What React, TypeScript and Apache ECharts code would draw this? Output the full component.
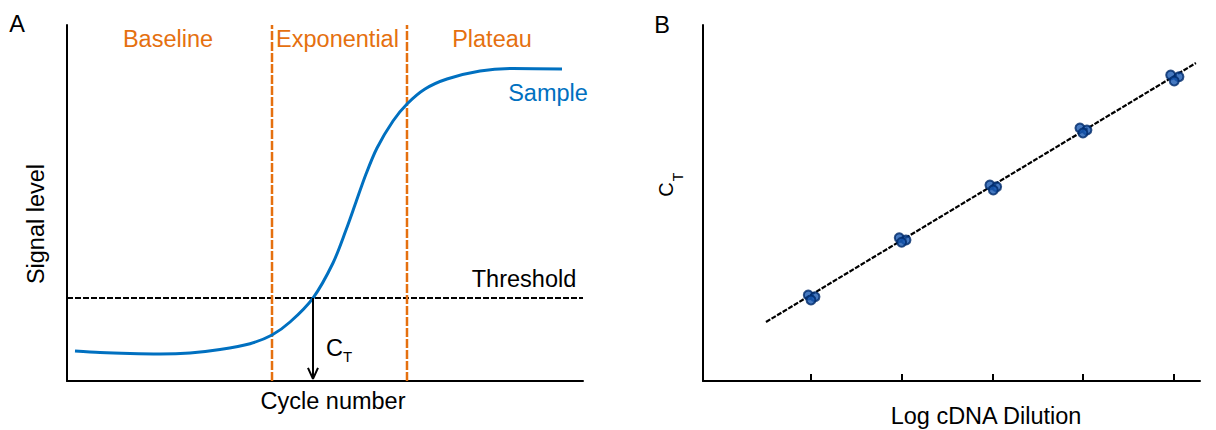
import React, { useEffect, useRef } from "react";
import * as echarts from "echarts";

// ---- Panel A: amplification curve ----
const cycleX = [1.55, 6.4, 12.21, 18.02, 23.84, 29.65, 35.47, 39.73, 43.22, 47.67, 51.55, 54.07, 56.01, 57.95, 60.08, 63.18, 65.89, 69.38, 73.64, 80.04, 86.43, 95.93];
const signalY = [8.43, 7.98, 7.7, 7.58, 7.87, 8.85, 10.48, 12.92, 16.57, 23.31, 33.15, 42.42, 50.28, 58.15, 65.45, 73.03, 77.81, 82.02, 84.83, 87.08, 87.78, 87.64];
const thresholdLevel = 23.31;
const ctCycle = 47.67;
const phaseBounds = [39.73, 65.89];
const phaseLabels = ["Baseline", "Exponential", "Plateau"];

// ---- Panel B: standard curve ----
const dilutionTicks = [1, 2, 3, 4, 5];
const rep1X = [0.97, 1.973, 2.972, 3.964, 4.964];
const rep1Y = [24.16, 40.25, 55.06, 71.07, 85.96];
const rep2X = [1.044, 2.047, 3.046, 4.041, 5.055];
const rep2Y = [23.68, 39.61, 54.58, 70.51, 85.48];
const rep3X = [1.0, 1.999, 3.009, 3.997, 5.003];
const rep3Y = [22.75, 38.96, 53.65, 69.66, 84.27];
const fitX = [0.504, 5.242];
const fitY = [16.57, 89.33];

const FONT = '"Liberation Sans", Arial, Helvetica, sans-serif';
const ORANGE = "#E5700F";
const BLUE = "#0070C0";

function txt(text: string, x: number, y: number, fill: string, size = 23.5, rotation = 0) {
  return {
    type: "text",
    x,
    y,
    rotation,
    style: {
      text,
      fill,
      fontSize: size,
      fontFamily: FONT,
      textAlign: "center",
      textVerticalAlign: "middle",
    },
  };
}

export default function App() {
  const ref = useRef<HTMLDivElement>(null);
  useEffect(() => {
    if (!ref.current) return;
    const chart = echarts.init(ref.current, undefined, { renderer: "svg" });
    const axisLine = { show: true, onZero: false, lineStyle: { color: "#000", width: 2 } };
    const hidden = { show: false };
    const pair = (xs: number[], ys: number[]) => xs.map((x, i) => [x, ys[i]]);
    const headDx = 0.97;
    const headDy = 3.1;
    const tipY = 0.6;
    const scatterStyle = {
      type: "scatter",
      xAxisIndex: 1,
      yAxisIndex: 1,
      symbol: "circle",
      symbolSize: 9,
      z: 5,
      itemStyle: { color: "#1858B0", borderColor: "#002A6A", borderWidth: 2 },
    };
    chart.setOption({
      animation: false,
      grid: [
        { left: 67, top: 25, width: 516, height: 356 },
        { left: 703, top: 25, width: 497, height: 356 },
      ],
      xAxis: [
        { type: "value", gridIndex: 0, min: 0, max: 100, axisLine, axisTick: hidden, axisLabel: hidden, splitLine: hidden },
        {
          type: "value",
          gridIndex: 1,
          min: -0.19,
          max: 5.287,
          axisLine,
          axisTick: { show: true, inside: true, length: 7, customValues: dilutionTicks, lineStyle: { color: "#000", width: 2 } },
          axisLabel: { show: false, customValues: dilutionTicks },
          splitLine: hidden,
        },
      ],
      yAxis: [
        { type: "value", gridIndex: 0, min: 0, max: 100, axisLine, axisTick: hidden, axisLabel: hidden, splitLine: hidden },
        { type: "value", gridIndex: 1, min: 0, max: 100, axisLine, axisTick: hidden, axisLabel: hidden, splitLine: hidden },
      ],
      series: [
        {
          name: "Sample",
          type: "line",
          xAxisIndex: 0,
          yAxisIndex: 0,
          data: pair(cycleX, signalY),
          smooth: 0.3,
          symbol: "none",
          lineStyle: { color: BLUE, width: 3 },
          z: 3,
        },
        {
          name: "Threshold",
          type: "line",
          xAxisIndex: 0,
          yAxisIndex: 0,
          data: [[0, thresholdLevel], [100, thresholdLevel]],
          symbol: "none",
          lineStyle: { color: "#000", width: 2, type: [6, 2] },
          z: 2,
        },
        ...phaseBounds.map((b) => ({
          type: "line",
          xAxisIndex: 0,
          yAxisIndex: 0,
          data: [[b, 0], [b, 100]],
          symbol: "none",
          lineStyle: { color: ORANGE, width: 2.5, type: [9, 2] },
          z: 2,
        })),
        {
          type: "line",
          xAxisIndex: 0,
          yAxisIndex: 0,
          data: [[ctCycle, thresholdLevel], [ctCycle, tipY]],
          symbol: "none",
          lineStyle: { color: "#000", width: 2 },
          z: 4,
        },
        {
          type: "line",
          xAxisIndex: 0,
          yAxisIndex: 0,
          data: [[ctCycle - headDx, tipY + headDy], [ctCycle, tipY], [ctCycle + headDx, tipY + headDy]],
          symbol: "none",
          lineStyle: { color: "#000", width: 2 },
          z: 4,
        },
        {
          name: "Fit",
          type: "line",
          xAxisIndex: 1,
          yAxisIndex: 1,
          data: pair(fitX, fitY),
          symbol: "none",
          lineStyle: { color: "#000", width: 2.2, type: [5, 1.5] },
          z: 3,
        },
        { ...scatterStyle, name: "Rep 1", data: pair(rep1X, rep1Y) },
        { ...scatterStyle, name: "Rep 2", data: pair(rep2X, rep2Y) },
        { ...scatterStyle, name: "Rep 3", data: pair(rep3X, rep3Y) },
      ],
      graphic: [
        txt("A", 17, 24, "#000"),
        txt("B", 662, 24.5, "#000"),
        txt(phaseLabels[0], 168, 39, ORANGE),
        txt(phaseLabels[1], 337.5, 39, ORANGE),
        txt(phaseLabels[2], 492, 39, ORANGE),
        txt("Sample", 548, 92.5, BLUE),
        txt("Threshold", 524, 279, "#000"),
        txt("Cycle number", 333, 401, "#000"),
        txt("Signal level", 35.5, 224, "#000", 23.5, Math.PI / 2),
        txt("C", 334.5, 348, "#000", 23.5),
        txt("T", 347.5, 356.5, "#000", 15),
        txt("Log cDNA Dilution", 986, 415.5, "#000"),
        txt("C", 665.5, 189.5, "#000", 20, Math.PI / 2),
        txt("T", 678, 177, "#000", 14, Math.PI / 2),
      ],
    });
    return () => chart.dispose();
  }, []);
  return <div ref={ref} style={{ position: "absolute", left: 0, top: 0, width: 1216, height: 430 }} />;
}
